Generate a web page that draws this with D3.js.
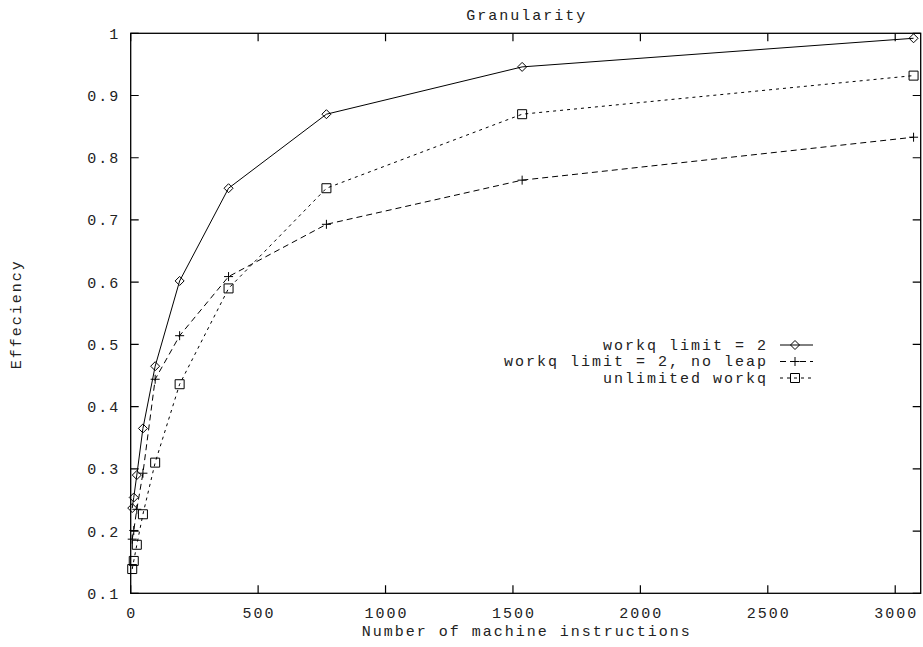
<!DOCTYPE html>
<html>
<head>
<meta charset="utf-8">
<script src="https://d3js.org/d3.v7.min.js"></script>
<style>
  body { margin: 0; background: #fff; }
  text { font-family: "Liberation Mono", "DejaVu Sans Mono", monospace; font-size: 15px; letter-spacing: 2px; fill: #222; }
</style>
</head>
<body>
<div id="plot"></div>
<script>
// data
var instructions = [6, 12, 24, 48, 96, 192, 384, 768, 1536, 3072];
var limit2 = [0.237, 0.254, 0.290, 0.365, 0.465, 0.602, 0.751, 0.870, 0.946, 0.992];
var limit2NoLeap = [0.187, 0.201, 0.235, 0.293, 0.444, 0.514, 0.609, 0.693, 0.764, 0.833];
var unlimited = [0.139, 0.152, 0.178, 0.227, 0.310, 0.436, 0.590, 0.751, 0.870, 0.932];
var seriesNames = ["workq limit = 2", "workq limit = 2, no leap", "unlimited workq"];
var xTicks = [0, 500, 1000, 1500, 2000, 2500, 3000];
var yTicks = [0.1, 0.2, 0.3, 0.4, 0.5, 0.6, 0.7, 0.8, 0.9, 1];

var series = [
    {name: seriesNames[0], values: limit2, marker: "diamond", dash: null},
    {name: seriesNames[1], values: limit2NoLeap, marker: "plus", dash: "6,4"},
    {name: seriesNames[2], values: unlimited, marker: "square", dash: "3,4"}
];

// set the dimensions and margins of the graph
var margin = {top: 33.3, right: 2.3, bottom: 53.7, left: 130.7},
    width = 923 - margin.left - margin.right,
    height = 647 - margin.top - margin.bottom;

var svg = d3.select("#plot")
    .append("svg")
    .attr("width", 923)
    .attr("height", 647)
    .append("g")
    .attr("transform", "translate(" + margin.left + "," + margin.top + ")");

var x = d3.scaleLinear().domain([0, 3100]).range([0, width]);
var y = d3.scaleLinear().domain([0.1, 1]).range([height, 0]);
var tickLen = 8;

// ticks (inward, mirrored on both sides)
svg.append("g").selectAll("path")
    .data(xTicks).enter().append("path")
    .attr("d", function(d) {
        return "M" + x(d) + "," + height + "v" + (-tickLen) +
               "M" + x(d) + ",0v" + tickLen;
    })
    .attr("stroke", "#000").attr("stroke-width", 1.2);
svg.append("g").selectAll("path")
    .data(yTicks).enter().append("path")
    .attr("d", function(d) {
        return "M0," + y(d) + "h" + tickLen +
               "M" + width + "," + y(d) + "h" + (-tickLen);
    })
    .attr("stroke", "#000").attr("stroke-width", 1.2);

// tick labels
svg.append("g").selectAll("text")
    .data(xTicks).enter().append("text")
    .attr("x", function(d) { return x(d) + 1; })
    .attr("y", height + 24.5)
    .attr("text-anchor", "middle")
    .text(function(d) { return d; });
svg.append("g").selectAll("text")
    .data(yTicks).enter().append("text")
    .attr("x", -10.5)
    .attr("y", function(d) { return y(d) + 5.5; })
    .attr("text-anchor", "end")
    .text(function(d) { return d3.format("")(+d.toFixed(1)); });

// border
svg.append("rect")
    .attr("width", width).attr("height", height)
    .attr("fill", "none").attr("stroke", "#000").attr("stroke-width", 1.3);

// titles
svg.append("text")
    .attr("x", width / 2 + 1).attr("y", -13)
    .attr("text-anchor", "middle")
    .text("Granularity");
svg.append("text")
    .attr("x", width / 2 + 1).attr("y", height + 43)
    .attr("text-anchor", "middle")
    .text("Number of machine instructions");
svg.append("text")
    .attr("transform", "translate(" + (-margin.left + 21) + "," + (height / 2 + 1) + ")rotate(-90)")
    .attr("text-anchor", "middle")
    .text("Effeciency");

// marker shapes
var r = 4.5;
function markerPath(type, cx, cy) {
    if (type === "diamond")
        return "M" + (cx - r) + "," + cy + "L" + cx + "," + (cy - r) + "L" + (cx + r) + "," + cy + "L" + cx + "," + (cy + r) + "Z";
    if (type === "square")
        return "M" + (cx - r) + "," + (cy - r) + "h" + (2 * r) + "v" + (2 * r) + "h" + (-2 * r) + "Z";
    return "M" + (cx - r) + "," + cy + "h" + (2 * r) + "M" + cx + "," + (cy - r) + "v" + (2 * r);
}

var line = d3.line()
    .x(function(d, i) { return x(instructions[i]); })
    .y(function(d) { return y(d); });

// lines and points
series.forEach(function(s, k) {
    svg.append("path")
        .datum(s.values)
        .attr("fill", "none")
        .attr("stroke", "#000")
        .attr("stroke-width", 1)
        .attr("stroke-dasharray", s.dash)
        .attr("d", line);

    svg.append("g")
        .selectAll("path")
        .data(s.values)
        .enter()
        .append("path")
        .attr("d", function(d, i) { return markerPath(s.marker, x(instructions[i]), y(d)); })
        .attr("fill", "none")
        .attr("stroke", "#000")
        .attr("stroke-width", 1);

    // legend
    var ly = 345 - margin.top + k * 16.5;
    svg.append("text")
        .attr("x", 768 - margin.left)
        .attr("y", ly + 5)
        .attr("text-anchor", "end")
        .text(s.name);
    svg.append("line")
        .attr("x1", 780 - margin.left).attr("x2", 813 - margin.left)
        .attr("y1", ly).attr("y2", ly)
        .attr("stroke", "#000").attr("stroke-width", 1)
        .attr("stroke-dasharray", s.dash);
    svg.append("path")
        .attr("d", markerPath(s.marker, 795 - margin.left, ly))
        .attr("fill", "none").attr("stroke", "#000").attr("stroke-width", 1);
});
</script>
</body>
</html>
